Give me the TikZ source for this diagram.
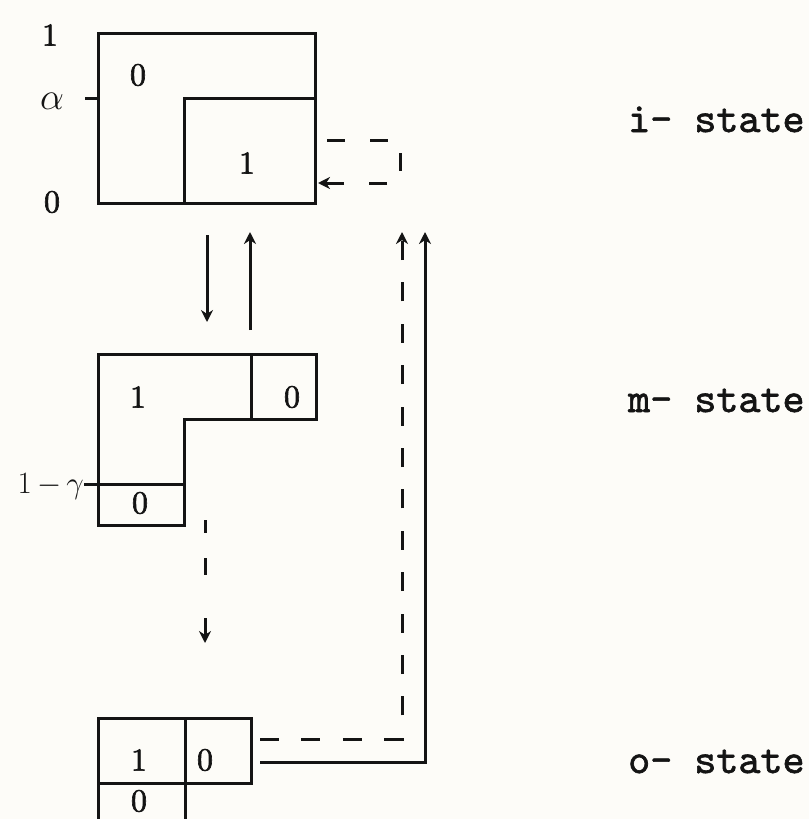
\RequirePackage{fix-cm}
\documentclass[tikz,border=0pt]{standalone}
\usepackage{fontspec}
\usetikzlibrary{arrows.meta}
\newfontfamily\figfont{lmroman10-regular.otf}[FakeBold=2]
\newfontfamily\statefont{lmmono10-regular.otf}[FakeBold=1.5]
\definecolor{paper}{RGB}{253,252,248}
\definecolor{ink}{RGB}{20,20,20}
\begin{document}
\begin{tikzpicture}[x=1pt,y=-1pt,
  box/.style={draw=ink, line width=3pt, line join=miter},
  lbl/.style={inner sep=0pt, text=ink, font=\fontsize{32}{36}\selectfont\figfont},
  greek/.style={inner sep=0pt, text=ink, font=\fontsize{38}{44}\selectfont},
  gamma/.style={inner sep=0pt, text=ink, font=\fontsize{31}{38}\selectfont},
  st/.style={inner sep=0pt, anchor=base west, text=ink, font=\fontsize{42}{48}\selectfont\statefont},
  link/.style={draw=ink, line width=3pt},
  dsh/.style={link, dash pattern=on 19pt off 22.4pt},
  tip/.style={-{Stealth[length=12pt,width=12pt]}}
]
\fill[paper] (0,0) rectangle (809,819);
\useasboundingbox (0,0) rectangle (809,819);

% ---- i-state box ----
\draw[box] (98,33) rectangle (315,203);
\draw[box] (184,203) |- (315,98);
\draw[box] (85,98) -- (98,98);
\node[lbl] (iTop) at (50,35) {1};
\node[greek] (iAlpha) at (52,101) {$\alpha$};
\node[lbl] (iBot) at (52,202) {0};
\node[lbl] (iZero) at (138,75) {0};
\node[lbl] (iOne) at (247,163) {1};
\node[st] (iState) at (628,132) {i- state};

% ---- m-state box ----
\draw[box] (98,354) -- (316,354) -- (316,419) -- (184,419) -- (184,525)
  -- (98,525) -- cycle;
\draw[box] (251,354) -- (251,419);
\draw[box] (84,484) -- (184,484);
\node[gamma, anchor=east] (mGamma) at (84,487) {$1{\,-\,}\gamma$};
\node[lbl] (mOne) at (138,397) {1};
\node[lbl] (mZeroR) at (292,397) {0};
\node[lbl] (mZeroL) at (140,503) {0};
\node[st] (mState) at (628,412) {m- state};

% ---- o-state box ----
\draw[box] (98,718) rectangle (251,783);
\draw[box] (185,718) -- (185,830);
\draw[box] (98,783) -- (98,830);
\node[lbl] (oOne) at (139,760) {1};
\node[lbl] (oZeroR) at (205,760) {0};
\node[lbl] (oZeroL) at (139,801) {0};
\node[st] (oState) at (628,773) {o- state};

% ---- connector end points ----
\coordinate (iLoopA) at (327,140);
\coordinate (iLoopB) at (318,183);
\coordinate (imA) at (207,235);
\coordinate (imB) at (207,322);
\coordinate (miA) at (250,330);
\coordinate (miB) at (250,232);
\coordinate (moA) at (205,520);
\coordinate (moB) at (205,643);
\coordinate (oiDA) at (260,739);
\coordinate (oiDB) at (402,232);
\coordinate (oiSA) at (260,762);
\coordinate (oiSB) at (425,232);

% ---- transitions ----
\draw[link, tip, dash pattern=on 18pt off 25pt]
  (iLoopA) -- (400,140) -- (400,183) -- (iLoopB);
\draw[link, tip] (imA) -- (imB);
\draw[link, tip] (miA) -- (miB);
\draw[link, tip, dash pattern=on 13pt off 25pt on 17pt off 43pt on 30pt off 0pt]
  (moA) -- (moB);
\draw[dsh, tip] (oiDA) -| (oiDB);
\draw[link, tip] (oiSA) -| (oiSB);
\end{tikzpicture}
\end{document}
